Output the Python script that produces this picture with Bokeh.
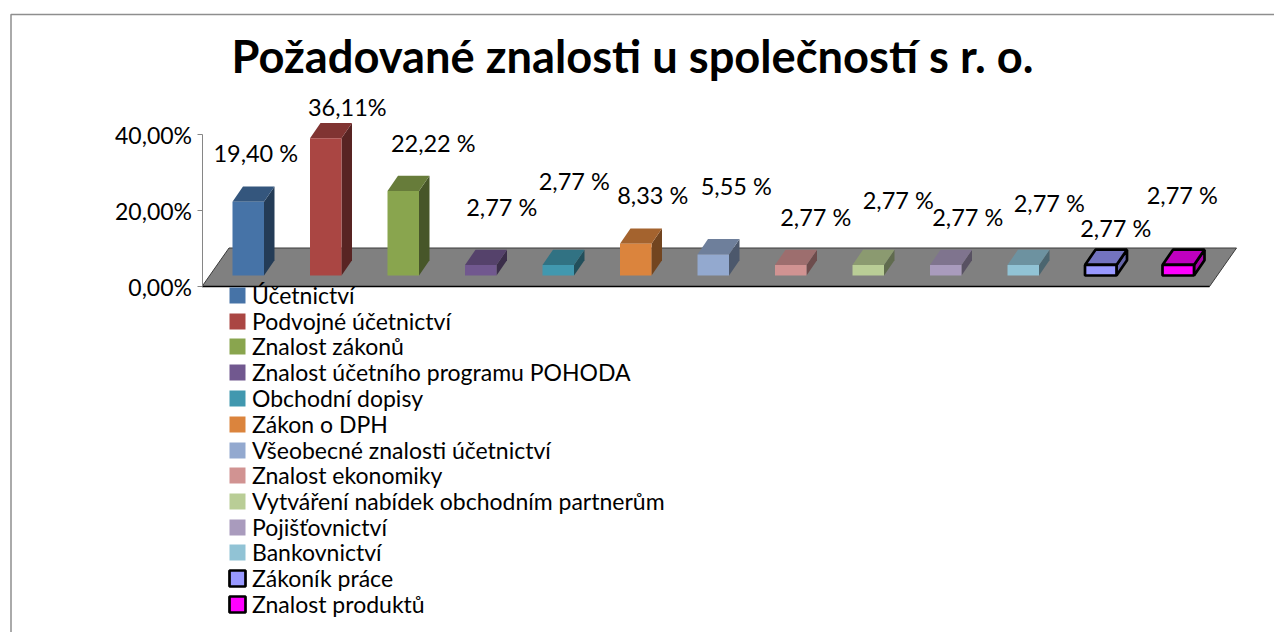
from bokeh.embed import file_html
from bokeh.resources import INLINE
from bokeh.plotting import figure
from bokeh.models import (ColumnDataSource, LinearAxis, FixedTicker, Range1d,
                          Legend, LegendItem, Label)

TITLE = "Požadované znalosti u společností s r. o."
categories = ["Účetnictví", "Podvojné účetnictví", "Znalost zákonů",
              "Znalost účetního programu POHODA", "Obchodní dopisy", "Zákon o DPH",
              "Všeobecné znalosti účetnictví", "Znalost ekonomiky",
              "Vytváření nabídek obchodním partnerům", "Pojišťovnictví",
              "Bankovnictví", "Zákoník práce", "Znalost produktů"]
values = [19.40, 36.11, 22.22, 2.77, 2.77, 8.33, 5.55, 2.77, 2.77, 2.77, 2.77, 2.77, 2.77]
value_labels = ["19,40 %", "36,11%", "22,22 %", "2,77 %", "2,77 %", "8,33 %", "5,55 %",
                "2,77 %", "2,77 %", "2,77 %", "2,77 %", "2,77 %", "2,77 %"]
tick_values = [0, 20, 40]
tick_labels = ["0,00%", "20,00%", "40,00%"]

colors = ["#4673A7", "#AA4643", "#89A54E", "#71588F", "#4198AF", "#DB843D", "#93A9CF",
          "#D19392", "#B9CD96", "#A99BBD", "#91C3D5", "#9999FF", "#FF00FF"]
outlined = [False] * 11 + [True] * 2
# label centre relative to bar's front-top centre, pixels (x right, y down)
label_dx = [7.5, 21.5, 30, 21, 16, 17, 23, 25, 30, 22, 26, 15, 4]
label_dy = [-49, -31.5, -48.5, -57.5, -83.5, -49, -68, -47.5, -64.5, -47.5, -61.5, -36.5, -69.5]

W, H = 1274, 632
PX_PER_CAT = 77.5
PX_PER_PCT = 3.8
X0 = 247.75          # screen x of first bar centre
Y0 = 286.0           # screen y of 0 %
LEGEND_TOP = 295     # screen y of first legend row centre
LEGEND_PITCH = 25.75
LEGEND_ROW = 28


def sx(px):
    return (px - X0) / PX_PER_CAT


def sy(px):
    return (Y0 - px) / PX_PER_PCT


def mul(c, f):
    r, g, b = (int(c[i:i + 2], 16) for i in (1, 3, 5))
    return "#%02X%02X%02X" % (round(r * f), round(g * f), round(b * f))


p = figure(width=W, height=H, toolbar_location=None, output_backend="svg",
           x_range=Range1d(sx(0), sx(W)), y_range=Range1d(sy(H), sy(0)),
           x_axis_location=None, y_axis_location=None,
           min_border=0, min_border_left=0, min_border_right=0,
           min_border_top=0, min_border_bottom=0)
p.grid.visible = False
p.outline_line_color = None
p.background_fill_color = "white"

# chart-area border (left and top only reach the page)
BORDER_COL = "#8E8E8E"
p.line([sx(10.5), sx(10.5), sx(W + 5)], [sy(H + 5), sy(14), sy(14)],
       line_color=BORDER_COL, line_width=1.5)

# axis
axis = LinearAxis(ticker=FixedTicker(ticks=tick_values), bounds=(0, 40),
                  major_label_overrides=dict(zip(tick_values, tick_labels)),
                  fixed_location=sx(201.5))
axis.axis_line_color = "#868686"
axis.major_tick_line_color = "#868686"
axis.major_tick_in = 0
axis.major_tick_out = 5
axis.minor_tick_line_color = None
axis.major_label_standoff = 5
axis.major_label_text_font = "Lato"
axis.major_label_text_font_size = "23px"
axis.major_label_text_color = "black"
p.add_layout(axis, "left")

# floor
fl, fr = sx(201.5), sx(1209)
DX, BACK = 27 / PX_PER_CAT, sy(247.5)
p.patch([fl, fr, fr + DX, fl + DX], [0, 0, BACK, BACK], fill_color="#808080",
        line_color="#3A3A3A", line_width=1)
p.line([fl, fr], [0, 0], line_color="black", line_width=1.5)

# bars
BW = 31.5 / PX_PER_CAT / 2
BASE = 11 / PX_PER_PCT
DDX = 10.5 / PX_PER_CAT
DDY = 15.3 / PX_PER_PCT
for i, (name, v, c, o) in enumerate(zip(categories, values, colors, outlined)):
    l, r, b, t = i - BW, i + BW, BASE, BASE + v
    lc, lw = ("black", 2.7) if o else (None, 0)
    p.patch([r, r + DDX, r + DDX, r], [b, b + DDY, t + DDY, t], fill_color=mul(c, .66 if o else .52),
            line_color=lc, line_width=lw)
    p.patch([l, r, r + DDX, l + DDX], [t, t, t + DDY, t + DDY], fill_color=mul(c, .75),
            line_color=lc, line_width=lw)
    q = p.quad(left=[l], right=[r], bottom=[b], top=[t], fill_color=c, line_color=lc, line_width=lw)
    # one single-row legend per category: the row pitch is tighter than Legend's own minimum
    row_centre = LEGEND_TOP + LEGEND_PITCH * i
    p.add_layout(Legend(items=[LegendItem(label=name, renderers=[q])],
                        location=(227, round(H - row_centre - LEGEND_ROW / 2)),
                        glyph_width=20, glyph_height=20, spacing=0,
                        padding=0, margin=0, border_line_color=None, background_fill_alpha=0,
                        label_standoff=5, label_text_font="Lato", label_text_font_size="23px",
                        label_text_color="black", label_height=20, label_width=420), "center")

# data labels
src = ColumnDataSource(dict(x=list(range(len(values))), y=[BASE + v for v in values],
                            text=value_labels, dx=label_dx, dy=label_dy))
p.text("x", "y", text="text", source=src, x_offset="dx", y_offset="dy",
       text_align="center", text_baseline="middle", text_font_size="23.5px",
       text_font={"value": "Lato"}, text_color="black")

p.add_layout(Label(x=632, y=H - 55, x_units="screen", y_units="screen", text=TITLE,
                   text_align="center", text_baseline="middle", text_font="Lato",
                   text_font_style="bold", text_font_size="45.25px", text_color="black"))

open("out.html", "w").write(file_html(p, INLINE))
